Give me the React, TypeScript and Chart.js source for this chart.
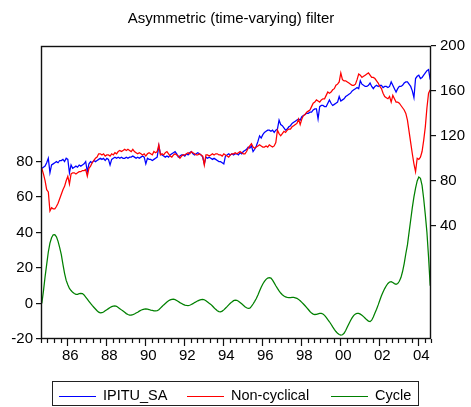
import { useEffect, useRef } from 'react';
import { Chart, registerables } from 'chart.js';

Chart.register(...registerables);

// Monthly observations, 1985M01 - 2004M12
const FIRST_YEAR = 1985;
const LAST_YEAR = 2005;

const ipituSa = [
  91, 92, 93, 96, 100, 87, 94, 95, 96, 97, 96, 98,
  98, 99, 97, 100, 99, 87, 94, 91, 92, 93, 92, 94,
  93, 94, 95, 97, 88, 95, 97, 96, 98, 97, 98, 99,
  100, 99, 100, 98, 100, 99, 94, 99, 100, 101, 100, 101,
  100, 101, 100, 100, 101, 100, 101, 101, 102, 101, 100, 101,
  100, 101, 102, 101, 95, 100, 99, 99, 98, 99, 100, 101,
  111, 104, 103, 102, 101, 102, 101, 103, 104, 105, 106, 104,
  101, 102, 103, 103, 102, 104, 103, 105, 106, 104, 103, 104,
  105, 104, 103, 101, 95, 101, 100, 101, 100, 99, 100, 99,
  98, 97, 97, 96, 95, 102, 103, 104, 103, 104, 103, 104,
  104, 103, 105, 104, 106, 107, 108, 110, 109, 111, 106, 108,
  111, 115, 120, 118, 121, 123, 124, 125, 125, 124, 125, 123,
  125, 126, 134, 130, 129, 127, 125, 126, 128, 129, 131, 132,
  133, 134, 135, 134, 137, 138, 139, 140, 140, 141, 141, 143,
  144, 144, 135, 146, 147, 147, 146, 146, 149, 152, 149, 147,
  148, 149, 150, 155, 151, 152, 153, 155, 156, 157, 158, 160,
  161, 162, 163, 162, 169, 166, 165, 164, 164, 165, 167, 164,
  162, 164, 165, 164, 165, 165, 163, 164, 164, 163, 164, 168,
  165, 162, 159, 162, 164, 164, 165, 167, 168, 168, 166, 164,
  160, 154, 171, 173, 174, 171, 172, 174, 176, 178, 179, 170,
];

const nonCyclical = [
  91, 86, 80, 72, 70, 53, 56, 55, 55, 57, 60, 64,
  68, 72, 75, 80, 84, 77, 86, 87, 87, 86, 87, 88,
  88, 89, 89, 90, 84, 91, 93, 96, 98, 100, 101, 104,
  104, 103, 104, 102, 103, 103, 102, 104, 103, 105, 104, 106,
  107, 106, 107, 108, 107, 108, 107, 106, 108, 106, 105, 104,
  105, 104, 103, 104, 102, 104, 105, 104, 103, 106, 105, 106,
  112, 103, 104, 103, 105, 106, 104, 102, 101, 103, 104, 103,
  102, 100, 102, 103, 103, 104, 105, 104, 106, 105, 104, 103,
  103, 104, 103, 102, 94, 103, 103, 102, 103, 104, 103, 104,
  104, 103, 103, 102, 104, 103, 102, 101, 103, 104, 104, 105,
  104, 105, 106, 105, 104, 104, 106, 109, 111, 113, 110, 109,
  110, 111, 112, 111, 110, 110, 111, 110, 112, 111, 110, 111,
  114, 125, 122, 120, 122, 124, 123, 125, 126, 126, 128, 129,
  130, 131, 135, 130, 135, 138, 139, 141, 142, 143, 146, 149,
  150, 152, 151, 150, 152, 153, 153, 156, 159, 158, 159, 161,
  162, 165, 166, 168, 176, 170, 169, 169, 168, 167, 166, 165,
  165, 166, 170, 175, 174, 172, 173, 174, 175, 176, 174, 172,
  172, 171, 169, 167, 164, 162, 158, 155, 154, 153, 155, 150,
  156, 153, 150, 150, 149, 147, 145, 143, 140, 134, 124, 114,
  104, 95, 88, 100, 99, 101, 106, 116, 128, 145, 158, 161,
];

const cycle = [
  0, 7, 15, 22, 29, 34, 37, 38.7, 38.8, 37.5, 35, 31.5,
  27.5, 22, 17, 13, 10.5, 8.5, 7.3, 6.3, 5.6, 5.2, 5.2, 5.5,
  5.7, 5.6, 4.8, 3.6, 2.4, 1.2, 0, -1.1, -2.1, -3.1, -4.1, -4.9,
  -5.3, -5.2, -4.8, -4.1, -3.5, -2.9, -2.3, -1.8, -1.5, -1.4, -1.6, -2.2,
  -2.9, -3.6, -4.3, -5, -5.7, -6.2, -6.5, -6.6, -6.3, -5.9, -5.4, -4.9,
  -4.3, -3.8, -3.4, -3.2, -3.1, -3.2, -3.4, -3.7, -3.9, -4.1, -4.2, -4.1,
  -3.5, -2.6, -1.7, -0.8, 0, 0.8, 1.5, 2.0, 2.3, 2.4, 2.2, 1.7,
  1.1, 0.5, 0, -0.5, -0.9, -1.1, -1.2, -1.0, -0.6, -0.1, 0.5, 1.0,
  1.5, 1.9, 2.2, 2.3, 2.1, 1.5, 0.8, 0.1, -0.5, -1.4, -2.4, -3.3,
  -4.1, -4.6, -4.7, -4.3, -3.6, -2.7, -1.8, -0.8, 0.1, 0.9, 1.6, 1.9,
  1.8, 1.3, 0.6, -0.2, -1.0, -1.8, -2.4, -2.8, -2.6, -1.6, -0.3, 1.2,
  2.8, 4.8, 7.0, 9.2, 11.0, 12.4, 13.6, 14.3, 14.6, 14.3, 13.1, 11.6,
  10.0, 8.5, 7.1, 5.9, 4.9, 4.2, 3.7, 3.4, 3.3, 3.3, 3.4, 3.4,
  3.2, 2.9, 2.3, 1.5, 0.6, -0.3, -1.3, -2.3, -3.4, -4.5, -5.4, -6.0,
  -6.2, -6.1, -5.8, -5.6, -5.6, -5.9, -6.7, -7.8, -9.1, -10.3, -11.7, -13.2,
  -14.6, -15.8, -16.8, -17.5, -17.8, -17.6, -16.8, -15.2, -13.3, -11.4, -9.6, -8.0,
  -6.7, -5.9, -5.6, -5.6, -6.0, -6.6, -7.4, -8.3, -9.2, -9.9, -10.2, -9.4,
  -7.6, -5.4, -3.2, -0.8, 1.8, 4.3, 6.5, 8.4, 10.0, 11.3, 12.1, 12.3,
  11.8, 11.2, 10.8, 11.2, 12.5, 14.6, 18.0, 22.5, 28.0, 33.0, 40.0, 47.0,
  54.0, 60.0, 65.0, 69.0, 71.2, 70.5, 66.5, 59.0, 50.0, 40.0, 26.0, 10.0,
];

const labelYears = [1986, 1988, 1990, 1992, 1994, 1996, 1998, 2000, 2002, 2004];
const yearLabels = ['86', '88', '90', '92', '94', '96', '98', '00', '02', '04'];
const leftTicks = [-20, 0, 20, 40, 60, 80];
const rightTicks = [40, 80, 120, 160, 200];

const seriesNames = ['IPITU_SA', 'Non-cyclical', 'Cycle'];
const seriesColors = ['#0000ff', '#ff0000', '#008000'];
const chartTitle = 'Asymmetric (time-varying) filter';

const FONT = '"Liberation Sans", Arial, Helvetica, sans-serif';

const toPoints = (values: number[]) =>
  values.map((v, i) => ({ x: FIRST_YEAR + (i + 0.5) / 12, y: v }));

// Frame around the plot, minor/major ticks on the time axis, title and boxed legend
const decorations = {
  id: 'decorations',
  afterDraw(chart: any) {
    const { ctx, chartArea: a } = chart;
    const xs = chart.scales.x;
    ctx.save();

    ctx.strokeStyle = '#111';
    ctx.lineWidth = 1.4;
    ctx.strokeRect(a.left + 0.5, a.top + 0.5, a.right - a.left - 1, a.bottom - a.top - 1);

    // time axis ticks every four months, longer ones before each labelled year
    ctx.lineWidth = 1.2;
    ctx.beginPath();
    for (let k = 0; k <= (LAST_YEAR - FIRST_YEAR) * 3; k++) {
      const px = Math.round(xs.getPixelForValue(FIRST_YEAR + k / 3)) + 0.5;
      const len = k % 6 === 4 ? 7 : 4;
      ctx.moveTo(px, a.bottom);
      ctx.lineTo(px, a.bottom + len);
    }
    ctx.stroke();

    // title
    ctx.fillStyle = '#000';
    ctx.font = `15px ${FONT}`;
    ctx.textAlign = 'center';
    ctx.textBaseline = 'middle';
    ctx.fillText(chartTitle, 231, 19);

    // legend
    ctx.lineWidth = 1;
    ctx.strokeStyle = '#222';
    ctx.strokeRect(52.5, 381.5, 366, 24);
    const lineStarts = [59, 187, 331];
    ctx.font = `14.5px ${FONT}`;
    ctx.textAlign = 'left';
    ctx.lineWidth = 1.2;
    seriesNames.forEach((name, i) => {
      ctx.strokeStyle = seriesColors[i];
      ctx.beginPath();
      ctx.moveTo(lineStarts[i], 396.5);
      ctx.lineTo(lineStarts[i] + 37, 396.5);
      ctx.stroke();
      ctx.fillStyle = '#000';
      ctx.fillText(name, lineStarts[i] + 44, 396);
    });

    ctx.restore();
  },
};

export default function App() {
  const canvasRef = useRef<HTMLCanvasElement | null>(null);

  useEffect(() => {
    const canvas = canvasRef.current;
    if (!canvas) return;

    const tickFont = { family: FONT, size: 15 };

    const chart = new Chart(canvas, {
      type: 'line',
      data: {
        datasets: [
          {
            label: seriesNames[0],
            data: toPoints(ipituSa),
            yAxisID: 'y1',
            borderColor: seriesColors[0],
            order: 3,
          },
          {
            label: seriesNames[1],
            data: toPoints(nonCyclical),
            yAxisID: 'y1',
            borderColor: seriesColors[1],
            order: 2,
          },
          {
            label: seriesNames[2],
            data: toPoints(cycle),
            yAxisID: 'y',
            borderColor: seriesColors[2],
            order: 1,
          },
        ],
      },
      options: {
        responsive: false,
        animation: false,
        events: [],
        layout: { padding: { top: 46, bottom: 38, left: 0, right: 0 } },
        elements: {
          point: { radius: 0 },
          line: { borderWidth: 1.25, tension: 0, fill: false },
        },
        plugins: {
          legend: { display: false },
          tooltip: { enabled: false },
          title: { display: false },
        },
        scales: {
          x: {
            type: 'linear',
            position: 'bottom',
            min: FIRST_YEAR,
            max: LAST_YEAR,
            grid: { display: false, drawTicks: false },
            border: { display: false },
            afterFit: (s: any) => {
              s.height = 30;
            },
            afterBuildTicks: (s: any) => {
              s.ticks = labelYears.map((y) => ({ value: y + 0.5 }));
            },
            ticks: {
              autoSkip: false,
              maxRotation: 0,
              padding: 8,
              color: '#000',
              font: tickFont,
              callback: (v: any) => {
                const idx = labelYears.indexOf(Math.floor(Number(v)));
                return idx >= 0 ? yearLabels[idx] : '';
              },
            },
          },
          y: {
            position: 'left',
            min: -20,
            max: 145,
            afterFit: (s: any) => {
              s.width = 41;
            },
            afterBuildTicks: (s: any) => {
              s.ticks = leftTicks.map((v) => ({ value: v }));
            },
            grid: { drawOnChartArea: false, tickLength: 5, color: '#111', lineWidth: 1.2 },
            border: { display: false },
            ticks: { padding: 3, color: '#000', font: tickFont },
          },
          y1: {
            position: 'right',
            min: -61,
            max: 200,
            afterFit: (s: any) => {
              s.width = 40;
            },
            afterBuildTicks: (s: any) => {
              s.ticks = rightTicks.map((v) => ({ value: v }));
            },
            grid: { drawOnChartArea: false, tickLength: 5, color: '#111', lineWidth: 1.2 },
            border: { display: false },
            ticks: { padding: 4, color: '#000', font: tickFont },
          },
        },
      },
      plugins: [decorations],
    } as any);

    return () => chart.destroy();
  }, []);

  return (
    <div style={{ position: 'fixed', left: 0, top: 0, width: 471, height: 407, background: '#fff' }}>
      <canvas ref={canvasRef} width={471} height={407} style={{ display: 'block' }} />
    </div>
  );
}
